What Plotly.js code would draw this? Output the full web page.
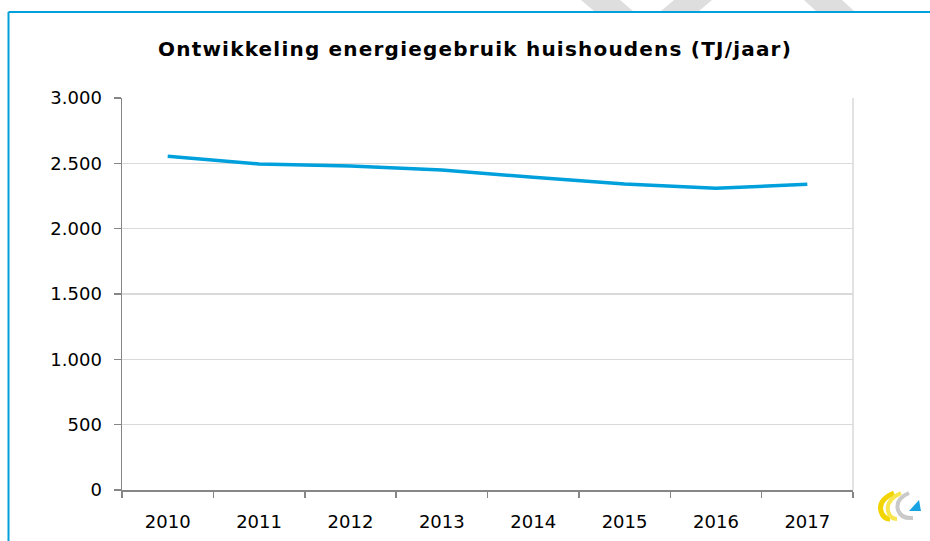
<!DOCTYPE html>
<html>
<head>
<meta charset="utf-8">
<script src="https://cdn.plot.ly/plotly-3.0.1.min.js"></script>
<style>
html,body{margin:0;padding:0;background:#fff;}
#chart{width:930px;height:541px;}
.gtitle{letter-spacing:1.2px;}
</style>
</head>
<body>
<div id="chart"></div>
<script>
// ---- data ----
var years = ['2010','2011','2012','2013','2014','2015','2016','2017'];
var energyUse = [2554, 2495, 2479, 2449, 2393, 2342, 2309, 2340];
var yTickValues = [0, 500, 1000, 1500, 2000, 2500, 3000];
var chartTitle = 'Ontwikkeling energiegebruik huishoudens (TJ/jaar)';

// ---- layout geometry (pixels) ----
var W = 930, H = 541;
var L = 122, R = 853, T = 98, B = 490;
function px(x){ return (x - L) / (R - L); }
function py(y){ return (B - y) / (B - T); }
function pathFrom(cmds){
  return cmds.map(function(c){
    var s = c[0];
    for (var i = 1; i < c.length; i += 2) {
      s += ' ' + px(c[i]).toFixed(5) + ',' + py(c[i+1]).toFixed(5);
    }
    return s;
  }).join(' ');
}

var shapes = [];
// light watermark stripes at the very top
[[581,620,633,594],[674,712,699,661],[804,842,854,816]].forEach(function(s){
  shapes.push({type:'path', xref:'paper', yref:'paper', layer:'below',
    path: pathFrom([['M',s[0],0],['L',s[1],0],['L',s[2],11],['L',s[3],11],['Z']]),
    fillcolor:'#DEDEDE', line:{width:0}});
});
// blue frame (top and left)
shapes.push({type:'line', xref:'paper', yref:'paper', x0:px(8.5), x1:px(935), y0:py(12), y1:py(12),
  line:{color:'#00A0DC', width:2}});
shapes.push({type:'line', xref:'paper', yref:'paper', x0:px(8.5), x1:px(8.5), y0:py(12), y1:py(545),
  line:{color:'#00A0DC', width:2}});
// plot area right border (light)
shapes.push({type:'line', xref:'paper', yref:'paper', x0:1, x1:1, y0:0, y1:1,
  line:{color:'#D9D9D9', width:1.5}});
// logo
shapes.push({type:'path', xref:'paper', yref:'paper',
  path: pathFrom([['M',894,493],['Q',878,500,881,511],['Q',883,519,890,519]]), line:{color:'#F2D500', width:5}});
shapes.push({type:'path', xref:'paper', yref:'paper',
  path: pathFrom([['M',901,493],['Q',886,500,888,511],['Q',890,519,897,519]]), line:{color:'#F7E64E', width:4}});
shapes.push({type:'path', xref:'paper', yref:'paper',
  path: pathFrom([['M',909,493],['Q',895,499,898,510],['Q',901,519,913,518]]), line:{color:'#C9C9C9', width:4}});
shapes.push({type:'path', xref:'paper', yref:'paper',
  path: pathFrom([['M',909,511],['L',921,511],['L',919,500],['Z']]), fillcolor:'#1AA3E2', line:{width:0}});

var trace = {
  x: years,
  y: energyUse,
  type: 'scatter',
  mode: 'lines',
  line: {color:'#00A0DC', width:3.5},
  hoverinfo: 'x+y'
};

var layout = {
  width: W, height: H,
  margin: {l:L, r:W-R, t:T, b:H-B, pad:0},
  paper_bgcolor:'#ffffff', plot_bgcolor:'#ffffff',
  separators: ',.',
  font: {family:'DejaVu Sans, sans-serif', size:18, color:'#000000'},
  showlegend: false,
  title: {text: '<b>' + chartTitle + '</b>', xref:'container', yref:'container',
    x: 475/W, y: 1 - 49/H, xanchor:'center', yanchor:'middle',
    font:{family:'DejaVu Sans, sans-serif', size:20, color:'#000000'}},
  xaxis: {
    type:'category', categoryorder:'array', categoryarray: years,
    range:[-0.5, 7.5], tickson:'boundaries',
    showgrid:false, zeroline:false,
    showline:true, linecolor:'#868686', linewidth:1.5,
    ticks:'outside', ticklen:6, tickcolor:'#868686', tickwidth:1.5,
    ticklabelstandoff: 15,
    tickfont:{size:18}
  },
  yaxis: {
    range:[0, 3000], tickvals: yTickValues, tickformat:',d',
    showgrid:true, gridcolor:'#D9D9D9', gridwidth:1.5,
    zeroline:false,
    showline:true, linecolor:'#868686', linewidth:1.5,
    ticks:'outside', ticklen:7, tickcolor:'#868686', tickwidth:1.5,
    ticklabelstandoff: 8,
    tickfont:{size:18}
  },
  shapes: shapes
};

Plotly.newPlot('chart', [trace], layout, {staticPlot:true, displayModeBar:false});
</script>
</body>
</html>
